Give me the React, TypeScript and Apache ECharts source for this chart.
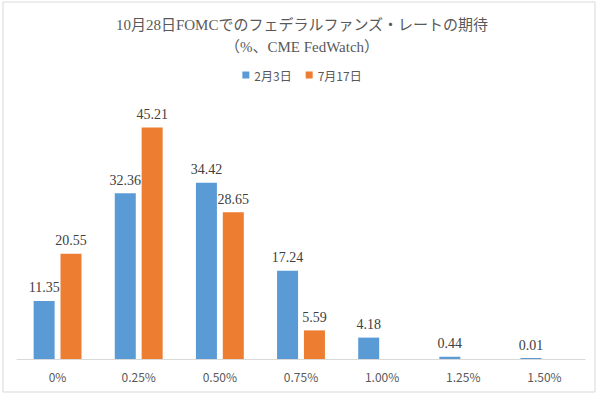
import React, { useEffect, useRef } from "react";
import * as echarts from "echarts";

const categories = ["0%", "0.25%", "0.50%", "0.75%", "1.00%", "1.25%", "1.50%"];
const seriesNames = ["2月3日", "7月17日"];
const feb3 = [11.35, 32.36, 34.42, 17.24, 4.18, 0.44, 0.01];
const jul17: (number | null)[] = [20.55, 45.21, 28.65, 5.59, null, null, null];
const titleText = "10月28日FOMCでのフェデラルファンズ・レートの期待";
const subtitleText = "（%、CME FedWatch）";

const serif = '"Liberation Serif", "DejaVu Serif", "Noto Sans CJK JP", serif';
const sans = '"Noto Sans CJK JP", "Noto Sans", sans-serif';

export default function App() {
  const ref = useRef<HTMLDivElement>(null);
  useEffect(() => {
    if (!ref.current) return;
    const chart = echarts.init(ref.current, null, { renderer: "svg" });
    const labelCfg = {
      show: true,
      position: "top" as const,
      distance: 6,
      color: "#404040",
      fontFamily: serif,
      fontSize: 14,
    };
    chart.setOption({
      animation: false,
      backgroundColor: "#ffffff",
      title: [
        {
          text: titleText,
          left: "center",
          top: 12,
          textStyle: { fontFamily: serif, fontSize: 15, fontWeight: "normal", color: "#595959" },
        },
        {
          text: subtitleText,
          left: "center",
          top: 34,
          textStyle: { fontFamily: serif, fontSize: 15, fontWeight: "normal", color: "#595959" },
        },
      ],
      legend: {
        top: 64,
        left: "center",
        itemWidth: 7,
        itemHeight: 7,
        itemGap: 14,
        icon: "rect",
        textStyle: { fontFamily: sans, fontSize: 12, color: "#595959" },
        data: seriesNames,
      },
      graphic: [
        {
          type: "rect",
          shape: { x: 3, y: 2, width: 592, height: 390 },
          style: { fill: "none", stroke: "#d9d9d9", lineWidth: 1 },
          silent: true,
        },
      ],
      grid: { left: 17, right: 19, top: 103, bottom: 37 },
      xAxis: {
        type: "category",
        data: categories,
        axisLine: { lineStyle: { color: "#d9d9d9" } },
        axisTick: { show: false },
        axisLabel: { color: "#595959", fontFamily: sans, fontSize: 12, margin: 11 },
      },
      yAxis: {
        type: "value",
        min: 0,
        max: 50,
        show: false,
        splitLine: { show: false },
      },
      series: [
        {
          name: seriesNames[0],
          type: "bar",
          data: feb3,
          barWidth: 21,
          barGap: "28%",
          barMinHeight: 1,
          itemStyle: { color: "#5b9bd5" },
          label: labelCfg,
        },
        {
          name: seriesNames[1],
          type: "bar",
          data: jul17,
          barWidth: 21,
          itemStyle: { color: "#ed7d31" },
          label: labelCfg,
        },
      ],
    });
    return () => chart.dispose();
  }, []);
  return (
    <div
      ref={ref}
      style={{ position: "fixed", left: 0, top: 0, width: 604, height: 396 }}
    />
  );
}
